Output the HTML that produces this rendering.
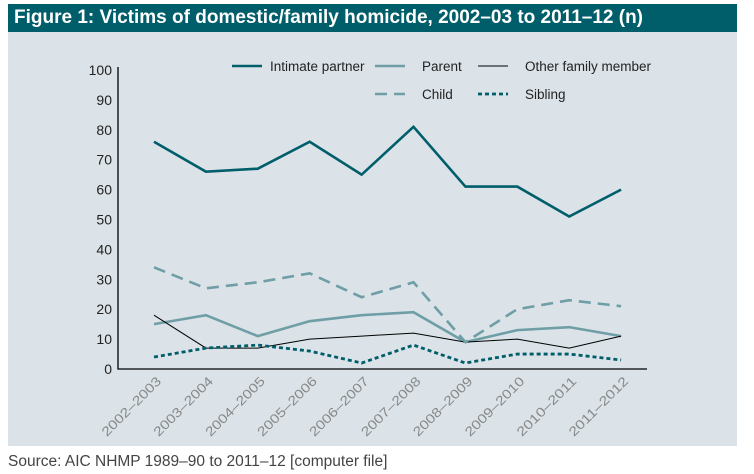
<!DOCTYPE html>
<html><head><meta charset="utf-8"><style>
body{margin:0;width:754px;height:474px;background:#fff;overflow:hidden;font-family:"Liberation Sans",sans-serif}
#title{position:absolute;left:8px;top:4px;width:729px;height:28px;background:#005e6a;color:#fff;font-weight:bold;font-size:19px;line-height:28px;padding-left:6px;box-sizing:border-box}
#panel{position:absolute;left:8px;top:32px;width:729px;height:414px;background:#dbe3e8}
#src{position:absolute;left:8px;top:453px;font-size:15.5px;color:#444}
svg{position:absolute;left:0;top:0}
</style></head><body>
<div id="title">Figure 1: Victims of domestic/family homicide, 2002–03 to 2011–12 (n)</div>
<div id="panel"></div>
<svg id="chart" width="754" height="474"></svg>
<div id="src">Source: AIC NHMP 1989–90 to 2011–12 [computer file]</div>
<script>
const categories=["2002–2003","2003–2004","2004–2005","2005–2006","2006–2007","2007–2008","2008–2009","2009–2010","2010–2011","2011–2012"];
const intimate=[76,66,67,76,65,81,61,61,51,60];
const parent=[15,18,11,16,18,19,9,13,14,11];
const other=[18,7,7,10,11,12,9,10,7,11];
const child=[34,27,29,32,24,29,9,20,23,21];
const sibling=[4,7,8,6,2,8,2,5,5,3];
const yTicks=[0,10,20,30,40,50,60,70,80,90,100];
const NS="http://www.w3.org/2000/svg";
const svg=document.getElementById('chart');
const x=i=>154+i*51.9, y=v=>369-v*2.99;
function el(t,a,p){const e=document.createElementNS(NS,t);for(const k in a)e.setAttribute(k,a[k]);(p||svg).appendChild(e);return e;}
const ax=el('path',{d:`M118 ${y(100)-3} V369 H647`,stroke:'#000','stroke-width':1.3,fill:'none'});


yTicks.forEach(v=>{const t=el('text',{x:112,y:y(v)+5,'text-anchor':'end','font-size':14,fill:'#222'});t.textContent=v;

});
categories.forEach((c,i)=>{const t=el('text',{x:0,y:0,'text-anchor':'end','font-size':13,fill:'#888',textLength:78,lengthAdjust:'spacingAndGlyphs',transform:`translate(${x(i)+8},${382}) rotate(-45)`});t.textContent=c;

});
const series=[
 {n:'intimate-partner',d:intimate,c:'#005e6a',w:2.6,da:'',lab:'Intimate partner',lx:232,ly:66},
 {n:'parent',d:parent,c:'#6f9ea6',w:2.6,da:'',lab:'Parent',lx:375,ly:66},
 {n:'other-family-member',d:other,c:'#000',w:1,da:'',lab:'Other family member',lx:478,ly:66},
 {n:'child',d:child,c:'#6f9ea6',w:2.6,da:'12 7',lab:'Child',lx:375,ly:94},
 {n:'sibling',d:sibling,c:'#005e6a',w:2.8,da:'4 3',lab:'Sibling',lx:478,ly:94}];
series.forEach(s=>{
 const p=el('polyline',{points:s.d.map((v,i)=>x(i)+','+y(v)).join(' '),fill:'none',stroke:s.c,'stroke-width':s.w,'stroke-dasharray':s.da,'stroke-linejoin':'miter'});
 
 
 const l=el('line',{x1:s.lx,x2:s.lx+30,y1:s.ly,y2:s.ly,stroke:s.c,'stroke-width':s.w,'stroke-dasharray':s.da});
 
 
 const t=el('text',{x:s.lx+(s.n==='intimate-partner'?38:47),y:s.ly+5,'font-size':13.5,fill:'#222'});t.textContent=s.lab;
 
 
});
</script>
</body></html>
